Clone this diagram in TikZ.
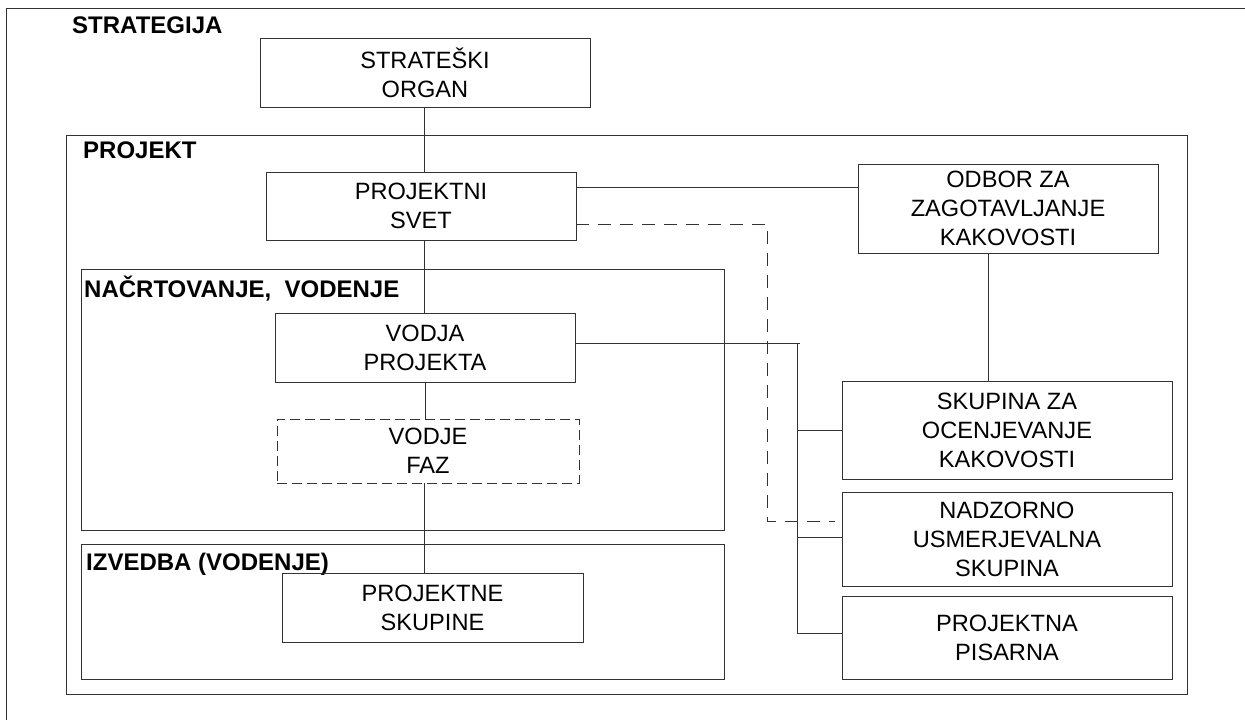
\documentclass[tikz,border=0pt]{standalone}
\usepackage{fontspec}
\setmainfont{Liberation Sans}
\begin{document}
\begin{tikzpicture}[x=1pt,y=-1pt,
  ln/.style={draw=black!80, line width=1pt},
  frame/.style={draw=black!80, line width=1pt},
  box/.style={draw=black!80, line width=1pt, align=center, inner sep=0pt,
    font=\fontsize{23.6}{29}\selectfont},
  dbox/.style={box, dash pattern=on 10pt off 5pt},
  dln/.style={ln, dash pattern=on 13pt off 9pt},
  lbl/.style={anchor=base west, inner sep=0pt, font=\fontsize{24}{28}\selectfont\bfseries}]
\useasboundingbox (0,0) rectangle (1245,720);
\clip (0,0) rectangle (1245,720);
\fill[white] (0,0) rectangle (1245,720);
% outer frame (extends beyond the picture)
\draw[frame] (6,760) -- (6,8) -- (1280,8);
% group frames
\draw[frame] (66,135) rectangle (1187,694);
\draw[frame] (81,269) rectangle (724,530);
\draw[frame] (81,544) rectangle (724,679);
% group labels
\node[lbl] (lstrat) at (72,33) {STRATEGIJA};
\node[lbl] (lproj) at (83,158) {PROJEKT};
\node[lbl] (lnacrt) at (84,297) {NAČRTOVANJE,\ \ VODENJE};
\node[lbl] (lizv) at (86,570) {IZVEDBA (VODENJE)};
% nodes
\node[box, minimum width=330, minimum height=69] (so) at (425,72.5) {STRATEŠKI\\ORGAN};
\node[box, minimum width=310, minimum height=68] (ps) at (421,206) {PROJEKTNI\\SVET};
\node[box, minimum width=300, minimum height=69] (vp) at (425,347.5) {VODJA\\PROJEKTA};
\node[dbox, minimum width=302, minimum height=64] (vf) at (428,451) {VODJE\\FAZ};
\node[box, minimum width=301, minimum height=69] (psk) at (432.5,607.5) {PROJEKTNE\\SKUPINE};
\node[box, minimum width=300, minimum height=89] (odbor) at (1008,208.5) {ODBOR ZA\\ZAGOTAVLJANJE\\KAKOVOSTI};
\node[box, minimum width=330, minimum height=98] (sok) at (1007,430) {SKUPINA ZA\\OCENJEVANJE\\KAKOVOSTI};
\node[box, minimum width=330, minimum height=94] (nus) at (1007,539) {NADZORNO\\USMERJEVALNA\\SKUPINA};
\node[box, minimum width=330, minimum height=83] (pp) at (1007,637.5) {PROJEKTNA\\PISARNA};
% helper coordinates
\coordinate (sob) at (424,107);
\coordinate (psb) at (424,240);
\coordinate (vpb) at (425,382);
\coordinate (vfb) at (424,483);
\coordinate (psr1) at (576,187);
\coordinate (psr2) at (576,224);
\coordinate (dc1) at (767,224);
\coordinate (dc2) at (767,521);
\coordinate (dend) at (835,521);
\coordinate (odb) at (988,253);
\coordinate (vpr) at (575,343);
\coordinate (bt) at (797,343);
\coordinate (btx) at (800,343);
\coordinate (bb) at (797,633);
% connectors
\draw[ln] (sob) -- (sob |- ps.north);
\draw[ln] (psb) -- (psb |- vp.north);
\draw[ln] (vpb) -- (vpb |- vf.north);
\draw[ln] (vfb) -- (vfb |- psk.north);
\draw[ln] (psr1) -- (psr1 -| odbor.west);
\draw[ln] (odb) -- (odb |- sok.north);
\draw[dln] (psr2) -- (dc1) -- (dc2) -- (dend);
\draw[ln] (vpr) -- (btx);
\draw[ln] (bt) -- (bb);
\draw[ln] (bt |- sok.west) -- (sok.west);
\draw[ln] (797,537) -- (nus.west |- 797,537);
\draw[ln] (bb) -- (bb -| pp.west);
\end{tikzpicture}
\end{document}
